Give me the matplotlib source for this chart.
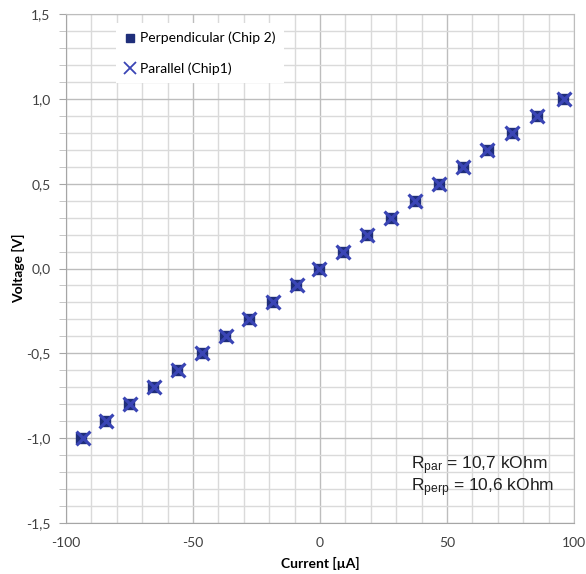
import matplotlib.pyplot as plt
from matplotlib.lines import Line2D
from matplotlib.ticker import MultipleLocator, FuncFormatter

plt.rcParams['font.family'] = ['Lato', 'DejaVu Sans']
plt.rcParams['mathtext.default'] = 'regular'
plt.rcParams['axes.unicode_minus'] = False

# --------- DATA ---------
voltage = [-1.0, -0.9, -0.8, -0.7, -0.6, -0.5, -0.4, -0.3, -0.2, -0.1, 0.0,
           0.1, 0.2, 0.3, 0.4, 0.5, 0.6, 0.7, 0.8, 0.9, 1.0]
current_perp = [-94.0, -84.5, -75.2, -65.7, -56.3, -46.6, -37.4, -28.0, -18.8, -9.3, -0.2,
                9.2, 18.6, 28.0, 37.4, 46.9, 56.4, 66.0, 75.6, 85.3, 95.8]
current_par = [-93.5, -84.2, -75.0, -65.5, -56.0, -46.4, -37.2, -27.8, -18.7, -9.2, -0.3,
               9.1, 18.5, 27.9, 37.3, 46.8, 56.2, 65.9, 75.5, 85.5, 96.2]

LABEL_PERP = "Perpendicular (Chip 2)"
LABEL_PAR = "Parallel (Chip1)"
R_TEXT = ["R$_{par}$ = 10,7 kOhm", "R$_{perp}$ = 10,6 kOhm"]

PERP_COLOR = '#1F2E7A'
PAR_COLOR = '#3A45B5'

# --------- PLOT ---------
fig = plt.figure(figsize=(5.86, 5.74), dpi=100)
ax = fig.add_axes([66 / 586, 51 / 574, 508 / 586, 509 / 574])

ax.scatter(current_perp, voltage, marker='s', s=50, color=PERP_COLOR, zorder=3)
ax.scatter(current_par, voltage, marker='x', s=100, color=PAR_COLOR, linewidths=2.3, zorder=4)

ax.set_xlim(-100, 100)
ax.set_ylim(-1.5, 1.5)
ax.xaxis.set_major_locator(MultipleLocator(50))
ax.xaxis.set_minor_locator(MultipleLocator(10))
ax.yaxis.set_major_locator(MultipleLocator(0.5))
ax.yaxis.set_minor_locator(MultipleLocator(0.1))
ax.yaxis.set_major_formatter(FuncFormatter(lambda v, p: f"{v:.1f}".replace('.', ',')))

ax.grid(which='major', color='#BDBDBD', linewidth=1.0, zorder=0)
ax.grid(which='minor', color='#DADADA', linewidth=1.0, zorder=0)
ax.set_axisbelow(True)
for s in ax.spines.values():
    s.set_color('#BDBDBD')
ax.spines['left'].set_color('#A6A6A6')
ax.spines['bottom'].set_color('#A6A6A6')

ax.tick_params(axis='x', which='both', length=0, pad=10, labelsize=10, labelcolor='#404040')
ax.tick_params(axis='y', which='major', length=5, color='#A6A6A6', pad=6, labelsize=10, labelcolor='#404040')
ax.tick_params(axis='y', which='minor', length=5, color='#BDBDBD')

ax.set_xlabel("Current [µA]", fontsize=10, fontweight='bold', labelpad=6)
ax.set_ylabel("Voltage [V]", fontsize=10, fontweight='bold', labelpad=1)

handles = [
    Line2D([], [], linestyle='none', marker='s', markersize=6, color=PERP_COLOR),
    Line2D([], [], linestyle='none', marker='x', markersize=8, markeredgewidth=1.3, color=PAR_COLOR),
]
ax.legend(handles, [LABEL_PERP, LABEL_PAR], loc='upper left', bbox_to_anchor=(0.085, 0.995),
          frameon=True, fancybox=False, edgecolor='none', facecolor='white', framealpha=1,
          fontsize=10, handlelength=0.8, handletextpad=0.3, labelspacing=1.3, borderpad=0.6)

ax.text(0.68, 0.105, R_TEXT[0], transform=ax.transAxes, fontsize=12.5,
        family='Liberation Sans', color='#202020')
ax.text(0.68, 0.062, R_TEXT[1], transform=ax.transAxes, fontsize=12.5,
        family='Liberation Sans', color='#202020')

plt.savefig("out.png", dpi=100)
plt.close()
